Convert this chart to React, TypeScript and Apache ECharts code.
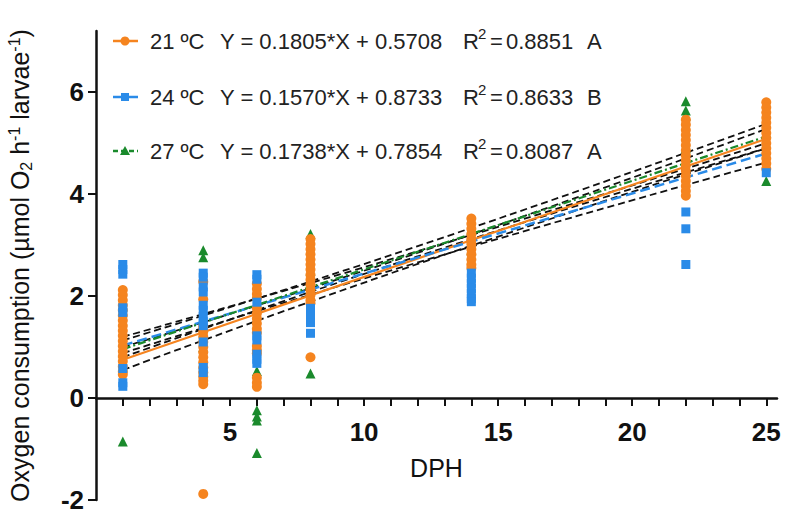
import React, { useEffect, useRef } from "react";
import * as echarts from "echarts";

// ---- data ----
const DPH = [1, 4, 6, 8, 14, 22, 25];

// 21 ºC (orange circles), one list per DPH
const T21 = [
  [2.12, 2.02, 1.92, 1.82, 1.72, 1.62, 1.52, 1.42, 1.32, 1.22, 1.12, 1.02, 0.92, 0.82, 0.72, 0.62, 0.52, 0.46],
  [2.28, 1.94, 1.4, 1.3, 1.2, 1.1, 1.0, 0.9, 0.8, 0.7, 0.6, 0.5, 0.42, 0.34, 0.27, -1.88],
  [2.24, 2.14, 2.04, 1.96, 1.76, 1.66, 1.56, 1.46, 1.36, 1.28, 1.02, 0.94, 0.88, 0.4, 0.3, 0.22],
  [3.12, 3.02, 2.92, 2.82, 2.72, 2.62, 2.52, 2.42, 2.32, 2.22, 2.12, 2.02, 1.92, 1.86, 0.8],
  [3.52, 3.42, 3.32, 3.22, 3.12, 3.02, 2.92, 2.82, 2.72, 2.62, 2.55],
  [5.46, 5.36, 5.26, 5.16, 5.06, 4.96, 4.86, 4.76, 4.66, 4.56, 4.46, 4.36, 4.26, 4.16, 4.06, 3.97],
  [5.8, 5.7, 5.6, 5.5, 5.4, 5.3, 5.2, 5.1, 5.0, 4.9, 4.8, 4.7, 4.6, 4.5],
];
// 24 ºC (blue squares)
const T24 = [
  [2.62, 2.52, 2.43, 1.77, 1.68, 0.58, 0.3, 0.23],
  [2.45, 2.37, 2.18, 2.08, 1.82, 1.72, 1.6, 1.5, 1.42, 1.1, 0.6, 0.5],
  [2.42, 2.33, 1.88, 1.22, 1.14, 0.86, 0.76, 0.68],
  [1.76, 1.66, 1.56, 1.48, 1.27],
  [2.45, 2.35, 2.25, 2.15, 2.05, 1.95, 1.89],
  [3.65, 3.32, 2.62],
  [4.42],
];
// 27 ºC (green triangles)
const T27 = [
  [1.1, 0.9, -0.85],
  [2.9, 2.76, 1.0],
  [0.53, -0.24, -0.36, -0.44, -1.08],
  [3.22, 2.5, 0.48],
  [3.3, 2.9],
  [5.82, 5.64, 5.54, 4.9],
  [5.2, 4.26],
];

// regression lines (end points at DPH 1 and 25)
const FIT_X = [1, 25];
const FIT21 = [0.751, 5.083];
const FIT24 = [1.030, 4.798];
const FIT27 = [0.959, 5.131];

// 95% confidence bands (black dashed)
const BAND_X = [1, 12, 25];
const BAND21_UP = [1.0, 2.85, 5.28];
const BAND21_LO = [0.55, 2.63, 4.9];
const BAND24_UP = [1.2, 2.88, 5.0];
const BAND24_LO = [0.88, 2.66, 4.62];
const BAND27_UP = [1.13, 2.98, 5.38];
const BAND27_LO = [0.8, 2.78, 4.9];

const LEG_LABELS = ["21 ºC", "24 ºC", "27 ºC"];
const LEG_EQ = ["Y = 0.1805*X + 0.5708", "Y = 0.1570*X + 0.8733", "Y = 0.1738*X + 0.7854"];
const LEG_R2 = ["0.8851", "0.8633", "0.8087"];
const LEG_GROUP = ["A", "B", "A"];

const X_LABELS = [5, 10, 15, 20, 25];
const X_TICKS = Array.from({ length: 25 }, (_, i) => i + 1);
const Y_TICKS = [-2, 0, 2, 4, 6];

// ---- styles ----
const ORANGE = "#F5841F";
const BLUE = "#2A8BE8";
const GREEN = "#1A8A2C";
const FONT = "Arial, 'Liberation Sans', Helvetica, sans-serif";
const Y_MIN = -2;
const Y_MAX = 7.2;
const GRID_TOP = 31;
const GRID_BOTTOM = 16;
const H = 516;

const pairs = (xs: number[], ys: number[]) => xs.map((x, i) => [x, ys[i]]);
const cols = (vals: number[][]) => DPH.flatMap((x, i) => vals[i].map((y) => [x, y]));

export default function App() {
  const ref = useRef<HTMLDivElement>(null);
  useEffect(() => {
    if (!ref.current) return;
    const chart = echarts.init(ref.current, undefined, { renderer: "svg" });

    // distance of the value 0 above the grid's bottom edge, to lift the x axis there
    const plotH = H - GRID_TOP - GRID_BOTTOM;
    const zeroLift = ((0 - Y_MIN) / (Y_MAX - Y_MIN)) * plotH;

    const bandSeries = [BAND21_UP, BAND21_LO, BAND24_UP, BAND24_LO, BAND27_UP, BAND27_LO].map((b) => ({
      type: "line",
      data: pairs(BAND_X, b),
      showSymbol: false,
      symbol: "none",
      smooth: true,
      z: 1,
      lineStyle: { color: "#111", width: 1.8, type: [7, 4] },
      silent: true,
    }));

    const rowY = [41, 97, 151];
    const legendGraphics: any[] = [];
    const colors = [ORANGE, BLUE, GREEN];
    rowY.forEach((y, i) => {
      legendGraphics.push({
        type: "line",
        shape: { x1: 113, y1: y, x2: 138, y2: y },
        style: { stroke: colors[i], lineWidth: 2.5, lineDash: i === 2 ? [5, 3] : null },
      });
      if (i === 0) legendGraphics.push({ type: "circle", shape: { cx: 125, cy: y, r: 4.5 }, style: { fill: ORANGE } });
      if (i === 1) legendGraphics.push({ type: "rect", shape: { x: 121, y: y - 4, width: 8, height: 8 }, style: { fill: BLUE } });
      if (i === 2)
        legendGraphics.push({
          type: "polygon",
          shape: { points: [[125, y - 5], [130, y + 4], [120, y + 4]] },
          style: { fill: GREEN },
        });
      const txt = (x: number, yy: number, text: string, size = 22) => ({
        type: "text",
        x,
        y: yy,
        style: { text, fill: "#222", font: `${size}px ${FONT}`, textVerticalAlign: "middle", verticalAlign: "middle" },
      });
      legendGraphics.push(txt(150, y, LEG_LABELS[i]));
      legendGraphics.push(txt(220, y, LEG_EQ[i]));
      legendGraphics.push(txt(463, y, "R"));
      legendGraphics.push(txt(478, y - 8, "2", 15));
      legendGraphics.push(txt(490, y, "="));
      legendGraphics.push(txt(506, y, LEG_R2[i]));
      legendGraphics.push(txt(587, y, LEG_GROUP[i]));
    });

    chart.setOption({
      animation: false,
      backgroundColor: "#fff",
      grid: { left: 96, right: 8, top: GRID_TOP, bottom: GRID_BOTTOM, containLabel: false, outerBoundsMode: "none" },
      xAxis: {
        type: "value",
        min: 0,
        max: 25.4,
        position: "bottom",
        offset: -zeroLift,
        splitLine: { show: false },
        axisLine: { onZero: false, lineStyle: { color: "#111", width: 2.5 } },
        axisTick: { customValues: X_TICKS, length: 8, lineStyle: { color: "#111", width: 2 } },
        axisLabel: {
          customValues: X_LABELS,
          margin: 21,
          color: "#111",
          fontSize: 26,
          fontWeight: "bold",
          fontFamily: FONT,
        },
        name: "DPH",
        nameLocation: "middle",
        nameGap: 57,
        nameTextStyle: { color: "#111", fontSize: 25, fontFamily: FONT },
      },
      yAxis: {
        type: "value",
        min: Y_MIN,
        max: Y_MAX,
        splitLine: { show: false },
        axisLine: { onZero: false, lineStyle: { color: "#111", width: 2.5 } },
        axisTick: { customValues: Y_TICKS, length: 8, lineStyle: { color: "#111", width: 2 } },
        axisLabel: {
          customValues: Y_TICKS,
          margin: 12,
          color: "#111",
          fontSize: 26,
          fontWeight: "bold",
          fontFamily: FONT,
        },
        name: "Oxygen consumption (µmol O{sub|2} h{sup|-1} larvae{sup|-1})",
        nameLocation: "middle",
        nameRotate: 90,
        nameGap: 62,
        nameTextStyle: {
          color: "#111",
          fontSize: 25,
          fontFamily: FONT,
          lineHeight: 28,
          rich: {
            sub: { fontSize: 16, fontFamily: FONT, color: "#111", lineHeight: 13, verticalAlign: "bottom" },
            sup: { fontSize: 16, fontFamily: FONT, color: "#111", lineHeight: 13, verticalAlign: "top" },
          },
        },
      },
      series: [
        ...bandSeries,
        {
          type: "line",
          data: pairs(FIT_X, FIT21),
          showSymbol: false,
          symbol: "none",
          z: 2,
          lineStyle: { color: ORANGE, width: 2.2, type: "solid" },
        },
        {
          type: "line",
          data: pairs(FIT_X, FIT24),
          showSymbol: false,
          symbol: "none",
          z: 2,
          lineStyle: { color: BLUE, width: 2.5, type: [10, 5] },
        },
        {
          type: "line",
          data: pairs(FIT_X, FIT27),
          showSymbol: false,
          symbol: "none",
          z: 2,
          lineStyle: { color: GREEN, width: 2.2, type: [8, 3, 2, 3] },
        },
        {
          name: "27 ºC",
          type: "scatter",
          data: cols(T27),
          symbol: "triangle",
          symbolSize: 10,
          z: 3,
          itemStyle: { color: GREEN, opacity: 1 },
        },
        {
          name: "21 ºC",
          type: "scatter",
          data: cols(T21),
          symbol: "circle",
          symbolSize: 10,
          z: 4,
          itemStyle: { color: ORANGE, opacity: 1 },
        },
        {
          name: "24 ºC",
          type: "scatter",
          data: cols(T24),
          symbol: "rect",
          symbolSize: 9,
          z: 5,
          itemStyle: { color: BLUE, opacity: 1 },
        },
      ],
      graphic: legendGraphics,
    });

    return () => chart.dispose();
  }, []);

  return (
    <div
      ref={ref}
      style={{ position: "fixed", left: 0, top: 0, width: 785, height: 516, background: "#fff" }}
    />
  );
}
